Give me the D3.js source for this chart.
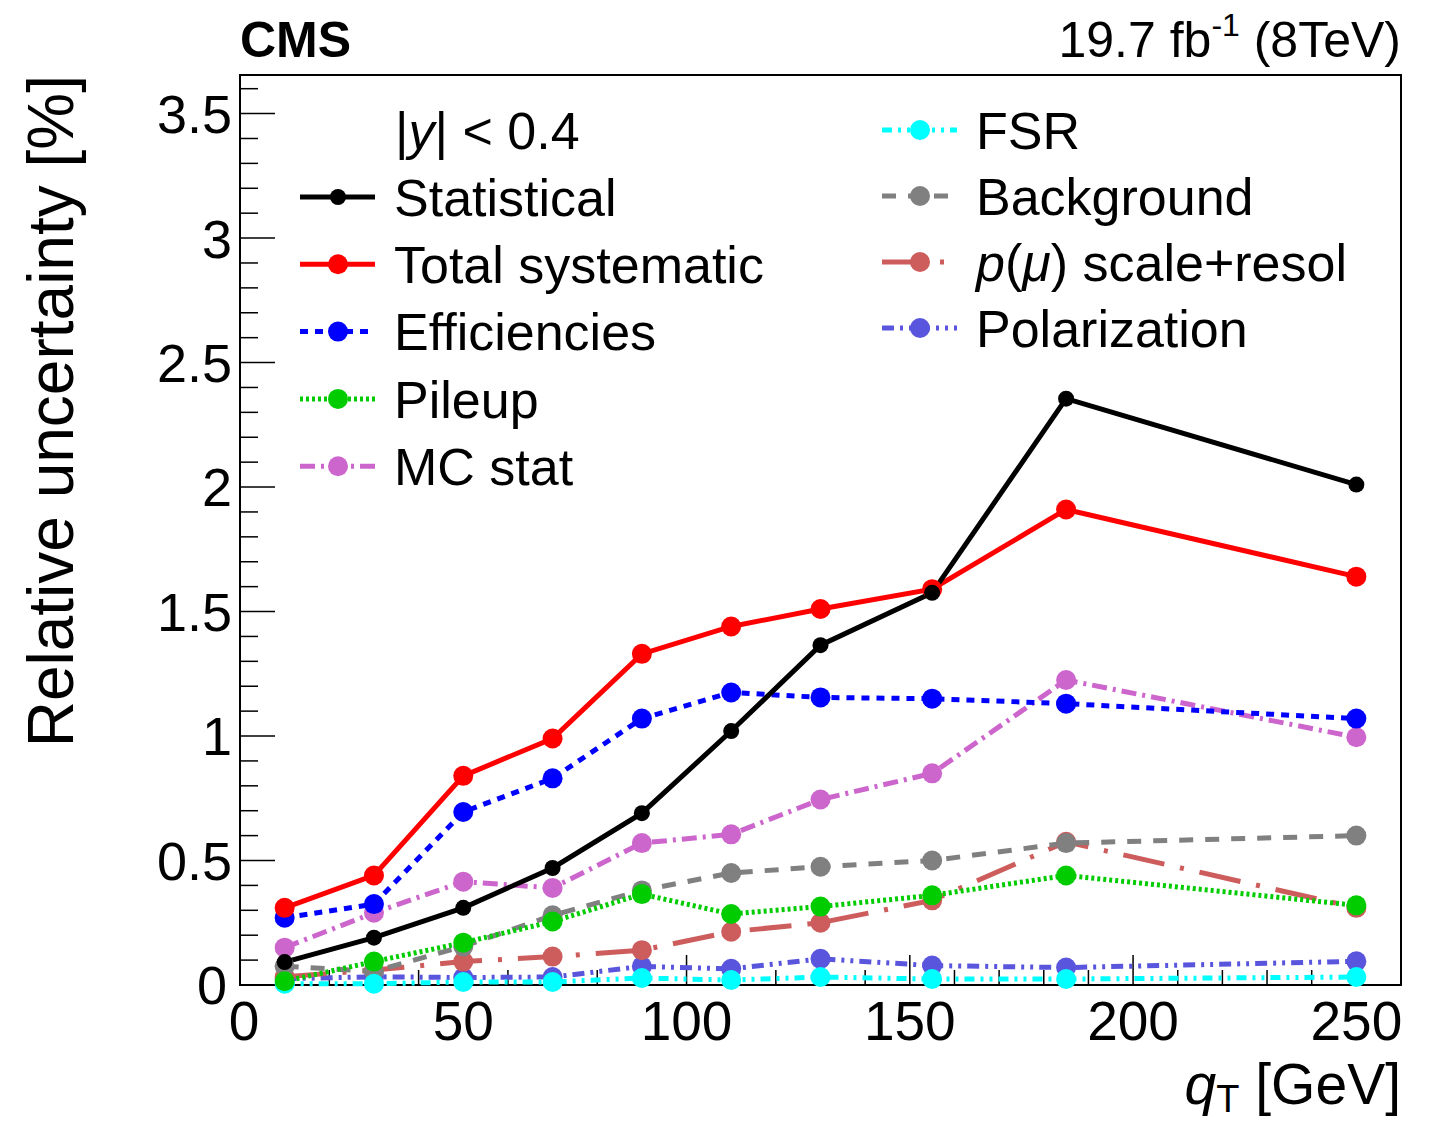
<!DOCTYPE html>
<html>
<head>
<meta charset="utf-8">
<script src="https://cdn.jsdelivr.net/npm/d3@7"></script>
<style>
    body { margin: 0; background: #fff; }
    svg { display: block; font-family: "Liberation Sans", Arial, Helvetica, sans-serif; }
</style>
</head>
<body>
<div id="chart"></div>
<script>
// q_T bin centres [GeV]
const qT = [10, 30, 50, 70, 90, 110, 130, 155, 185, 250];

// relative uncertainties [%]
const statistical = [0.092, 0.19, 0.31, 0.47, 0.69, 1.02, 1.365, 1.575, 2.355, 2.01];
const totalSyst = [0.31, 0.44, 0.84, 0.99, 1.33, 1.44, 1.51, 1.59, 1.91, 1.64];
const efficiencies = [0.27, 0.325, 0.695, 0.83, 1.07, 1.175, 1.155, 1.15, 1.13, 1.07];
const pileup = [0.015, 0.094, 0.17, 0.255, 0.365, 0.285, 0.315, 0.36, 0.44, 0.32];
const mcStat = [0.15, 0.29, 0.415, 0.39, 0.57, 0.605, 0.745, 0.85, 1.225, 0.995];
const fsr = [0.005, 0.005, 0.012, 0.012, 0.028, 0.02, 0.032, 0.024, 0.024, 0.032];
const background = [0.075, 0.055, 0.155, 0.28, 0.38, 0.45, 0.475, 0.5, 0.57, 0.6];
const muScale = [0.033, 0.06, 0.094, 0.114, 0.14, 0.214, 0.25, 0.34, 0.575, 0.31];
const polarization = [0.025, 0.033, 0.03, 0.032, 0.075, 0.065, 0.105, 0.078, 0.07, 0.095];

const xTicks = [0, 50, 100, 150, 200, 250];
const yTicks = [0, 0.5, 1, 1.5, 2, 2.5, 3, 3.5];

const W = 1432, H = 1123;
const margin = {top: 75, right: 31, bottom: 138, left: 240};

const svg = d3.select("#chart").append("svg")
    .attr("width", W)
    .attr("height", H);

const x = d3.scaleLinear().domain([0, 260]).range([margin.left, W - margin.right]);
const y = d3.scaleLinear().domain([0, 3.655]).range([H - margin.bottom, margin.top]);

// series, drawn from last to first so that statistical ends on top
const series = [
    {name: "Statistical", values: statistical, color: "#000000", dash: null, r: 8},
    {name: "Total systematic", values: totalSyst, color: "#ff0000", dash: null, r: 10},
    {name: "Efficiencies", values: efficiencies, color: "#0000ff", dash: "8,7", r: 10},
    {name: "Pileup", values: pileup, color: "#00cc00", dash: "3,3", r: 10},
    {name: "MC stat", values: mcStat, color: "#cc66cc", dash: "15,6,3,6", r: 10},
    {name: "FSR", values: fsr, color: "#00ffff", dash: "10,6,3,6,3,6", r: 10},
    {name: "Background", values: background, color: "#808080", dash: "14,12", r: 10},
    {name: "p(mu)", values: muScale, color: "#cd5c5c", dash: "42,16,4,16", r: 10},
    {name: "Polarization", values: polarization, color: "#5a55dd", dash: "12,6,3,6,3,6", r: 10}
];

// frame
svg.append("rect")
    .attr("x", x(0)).attr("y", margin.top)
    .attr("width", x(260) - x(0)).attr("height", y(0) - margin.top)
    .attr("fill", "none").attr("stroke", "#000").attr("stroke-width", 2);

// y ticks (inside, left only)
const yMinor = d3.range(0, 3.65, 0.1);
svg.append("g").selectAll("line")
    .data(yMinor)
    .join("line")
    .attr("x1", x(0)).attr("x2", d => x(0) + (Math.abs(d * 2 - Math.round(d * 2)) < 1e-6 ? 35 : 18))
    .attr("y1", d => y(d)).attr("y2", d => y(d))
    .attr("stroke", "#000").attr("stroke-width", 1.5);

// the two "0" labels meet at the corner, nudge them apart a little
svg.append("g").selectAll("text")
    .data(yTicks)
    .join("text")
    .attr("x", d => x(0) - (d === 0 ? 13 : 8))
    .attr("y", d => y(d))
    .attr("dy", "0.36em")
    .attr("text-anchor", "end")
    .attr("font-size", 54)
    .text(d => d3.format("")(d));

// x ticks (inside, bottom only)
const xMinor = d3.range(0, 261, 10);
svg.append("g").selectAll("line")
    .data(xMinor)
    .join("line")
    .attr("x1", d => x(d)).attr("x2", d => x(d))
    .attr("y1", y(0)).attr("y2", d => y(0) - (d % 50 === 0 ? 30 : 15))
    .attr("stroke", "#000").attr("stroke-width", 1.5);

svg.append("g").selectAll("text")
    .data(xTicks)
    .join("text")
    .attr("x", d => x(d) + (d === 0 ? 4 : 0))
    .attr("y", y(0) + 55)
    .attr("text-anchor", "middle")
    .attr("font-size", 55)
    .text(d => d);

// axis titles
svg.append("text")
    .attr("transform", `translate(73, ${margin.top}) rotate(-90)`)
    .attr("text-anchor", "end")
    .attr("font-size", 64)
    .text("Relative uncertainty [%]");

const xt = svg.append("text")
    .attr("x", W - margin.right)
    .attr("y", 1104)
    .attr("text-anchor", "end")
    .attr("font-size", 57);
xt.append("tspan").attr("font-style", "italic").text("q");
xt.append("tspan").attr("font-size", 38).attr("dy", 8).text("T");
xt.append("tspan").attr("dy", -8).text(" [GeV]");

// header
svg.append("text")
    .attr("x", margin.left).attr("y", 57)
    .attr("font-size", 50).attr("font-weight", "bold")
    .text("CMS");

const lumi = svg.append("text")
    .attr("x", W - margin.right).attr("y", 57)
    .attr("text-anchor", "end")
    .attr("font-size", 50);
lumi.append("tspan").text("19.7 fb");
lumi.append("tspan").attr("font-size", 32).attr("dy", -21).text("-1");
lumi.append("tspan").attr("dy", 21).text(" (8TeV)");

// lines and markers
const line = d3.line()
    .x((d, i) => x(qT[i]))
    .y(d => y(d));

const drawOrder = series.slice().reverse();

svg.append("g").selectAll("path")
    .data(drawOrder)
    .join("path")
    .attr("d", d => line(d.values))
    .attr("fill", "none")
    .attr("stroke", d => d.color)
    .attr("stroke-width", 5)
    .attr("stroke-dasharray", d => d.dash);

drawOrder.forEach(s => {
    svg.append("g").selectAll("circle")
        .data(s.values)
        .join("circle")
        .attr("cx", (d, i) => x(qT[i]))
        .attr("cy", d => y(d))
        .attr("r", s.r)
        .attr("fill", s.color);
});

// legend
const legendFont = 52;
const hdr = svg.append("text")
    .attr("x", 395).attr("y", 149)
    .attr("font-size", legendFont);
hdr.append("tspan").text("|");
hdr.append("tspan").attr("font-style", "italic").text("y");
hdr.append("tspan").text("| < 0.4");

const leftRows = series.slice(0, 5).map((s, i) => ({s, lx: 300, ly: 197 + i * 67.3}));
const rightRows = series.slice(5).map((s, i) => ({s, lx: 882, ly: 130 + i * 66}));
const rows = leftRows.concat(rightRows);

const leg = svg.append("g").selectAll("g")
    .data(rows)
    .join("g");

leg.append("line")
    .attr("x1", d => d.lx).attr("x2", d => d.lx + 75)
    .attr("y1", d => d.ly).attr("y2", d => d.ly)
    .attr("stroke", d => d.s.color)
    .attr("stroke-width", 5)
    .attr("stroke-dasharray", d => d.s.dash);

leg.append("circle")
    .attr("cx", d => d.lx + 38).attr("cy", d => d.ly)
    .attr("r", d => d.s.r)
    .attr("fill", d => d.s.color);

leg.filter(d => d.s.name !== "p(mu)").append("text")
    .attr("x", d => d.lx + 94).attr("y", d => d.ly)
    .attr("dy", "0.36em")
    .attr("font-size", legendFont)
    .text(d => d.s.name);

const pm = leg.filter(d => d.s.name === "p(mu)").append("text")
    .attr("x", d => d.lx + 94).attr("y", d => d.ly)
    .attr("dy", "0.36em")
    .attr("font-size", legendFont);
pm.append("tspan").attr("font-style", "italic").text("p");
pm.append("tspan").text("(");
pm.append("tspan").attr("font-style", "italic").text("\u03bc");
pm.append("tspan").text(") scale+resol");
</script>
</body>
</html>
